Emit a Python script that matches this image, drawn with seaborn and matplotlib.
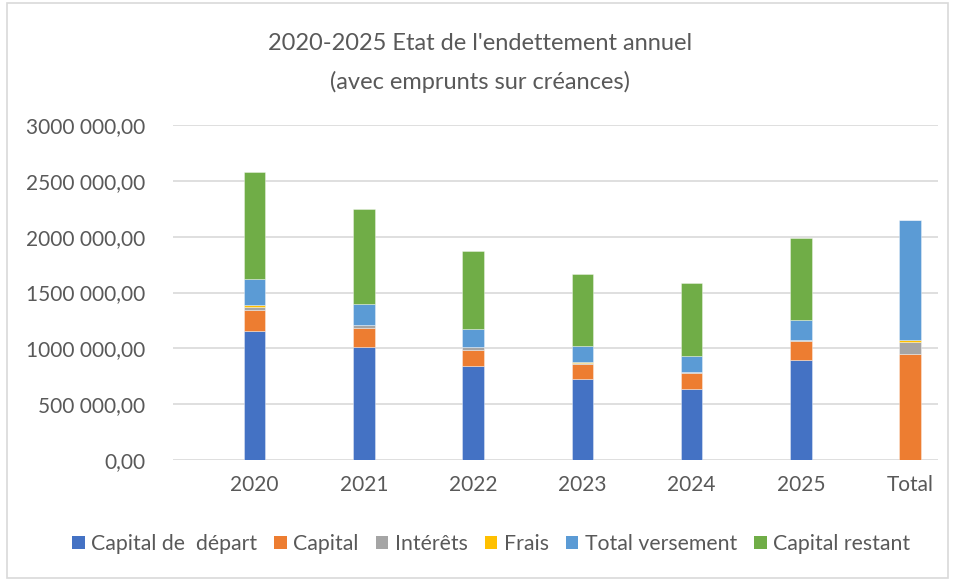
import numpy as np
import matplotlib
matplotlib.use("Agg")
import matplotlib.pyplot as plt
import seaborn as sns
from matplotlib.patches import Rectangle, Patch

# --- data ---
categories = ["2020", "2021", "2022", "2023", "2024", "2025", "Total"]
capital_depart = [1152000, 1009000, 839000, 722000, 633000, 899000, 0]
capital = [192000, 176000, 149000, 135000, 143000, 164000, 950000]
interets = [25000, 22000, 20000, 16000, 13000, 14000, 110000]
frais = [15000, 2000, 1000, 1000, 1000, 1000, 18000]
total_versement = [236000, 191000, 164000, 146000, 144000, 179000, 1075000]
capital_restant = [962000, 846000, 696000, 643000, 654000, 732000, 0]

series_names = ["Capital de  départ", "Capital", "Intérêts", "Frais",
                "Total versement", "Capital restant"]
series_values = [capital_depart, capital, interets, frais,
                 total_versement, capital_restant]
colors = ["#4472C4", "#ED7D31", "#A5A5A5", "#FFC000", "#5B9BD5", "#70AD47"]
ytick_values = [0, 500000, 1000000, 1500000, 2000000, 2500000, 3000000]
ytick_labels = ["0,00", "500 000,00", "1000 000,00", "1500 000,00",
                "2000 000,00", "2500 000,00", "3000 000,00"]

TEXT = "#595959"
sns.set_style("white")
plt.rcParams["font.family"] = ["Lato", "DejaVu Sans"]

fig = plt.figure(figsize=(9.55, 5.81), dpi=100)
W, H = 955, 581
ax = fig.add_axes([173 / W, (H - 460) / H, (938 - 173) / W, 335 / H])

# --- stacked bars ---
bottom = np.zeros(len(categories))
for name, vals, col in zip(series_names, series_values, colors):
    sns.barplot(x=categories, y=vals, bottom=bottom, color=col, width=0.197,
                saturation=1, errorbar=None, order=categories, ax=ax,
                edgecolor="#FFFFFF80", linewidth=0.5, zorder=3)
    bottom = bottom + np.array(vals)

ax.set_ylim(0, 3000000)
ax.set_xlim(-0.746, 6.256)
ax.set_yticks(ytick_values)
ax.set_yticklabels(ytick_labels)
ax.yaxis.grid(True, color="#D9D9D9", linewidth=1.2, zorder=0)
ax.set_axisbelow(True)
for s in ax.spines.values():
    s.set_visible(False)
ax.tick_params(axis="both", length=0, labelsize=15, colors=TEXT)
ax.tick_params(axis="y", pad=20)
ax.tick_params(axis="x", pad=11)
ax.set_xlabel("")
ax.set_ylabel("")

# --- title ---
fig.text(480 / W, 1 - 63 / H, "2020-2025 Etat de l'endettement annuel\n(avec emprunts sur créances)",
         ha="center", va="center", fontsize=17, color=TEXT, linespacing=1.95)

# --- legend ---
handles = [Patch(facecolor=c, edgecolor="none") for c in colors]
fig.legend(handles, series_names, loc="center", bbox_to_anchor=(491 / W, 1 - 544 / H),
           ncol=6, frameon=False, fontsize=15.3, handlelength=0.6, handleheight=0.6,
           handletextpad=0.3, columnspacing=0.8, labelcolor=TEXT)

# --- chart border ---
fig.patches.append(Rectangle((7 / W, 3 / H), (948 - 7) / W, (578 - 3) / H,
                             transform=fig.transFigure, fill=False,
                             edgecolor="#D9D9D9", linewidth=1.2))

fig.savefig("out.png", dpi=100)
